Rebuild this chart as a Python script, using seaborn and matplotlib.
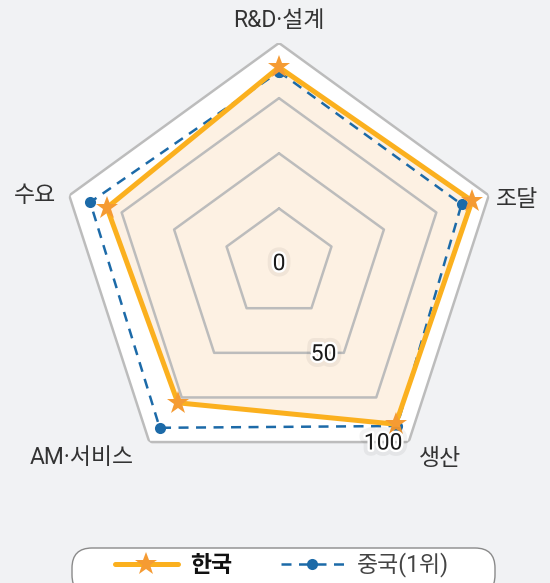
import numpy as np
import pandas as pd
import seaborn as sns
import matplotlib.pyplot as plt
import matplotlib.patheffects as pe
from matplotlib.lines import Line2D
from matplotlib.patches import FancyBboxPatch
from matplotlib.transforms import IdentityTransform

# data
categories = ['R&D·설계', '조달', '생산', 'AM·서비스', '수요']
korea = [89, 92, 90, 78, 82]
china = [87, 87, 91, 92, 90]
ring_values = [25, 50, 75, 100]
tick_labels = [0, 50, 100]

sns.set_theme(style='white')
plt.rcParams['font.family'] = ['Roboto', 'Noto Sans CJK KR', 'DejaVu Sans']

bg = '#f1f2f4'
fig = plt.figure(figsize=(5.5, 5.83), dpi=100, facecolor=bg)

# polar axes centred on the pentagon
cx, cy, R = 279 / 550, 1 - 263.6 / 583, 220.6
w, h = R / 550, R / 583
ax = fig.add_axes([cx - w, cy - h, 2 * w, 2 * h], projection='polar')
ax.set_theta_zero_location('N')
ax.set_theta_direction(-1)
ax.set_ylim(0, 100)
ax.patch.set_visible(False)
ax.spines['polar'].set_visible(False)
ax.grid(False)

n = len(categories)
theta = np.linspace(0, 2 * np.pi, n, endpoint=False)
theta_c = np.append(theta, 2 * np.pi)

# white plot area + pentagon rings
ax.fill(theta_c, [ring_values[-1]] * (n + 1), color='white', zorder=0)
for rv in ring_values:
    ax.plot(theta_c, [rv] * (n + 1), color='#bcbcbc', lw=1.8, zorder=1)

df_kr = pd.DataFrame({'theta': theta_c, 'value': korea + korea[:1]})
df_cn = pd.DataFrame({'theta': theta_c, 'value': china + china[:1]})

ax.fill(df_kr['theta'], df_kr['value'], color='#fdf1e3', zorder=0.5)

sns.lineplot(data=df_cn, x='theta', y='value', ax=ax, sort=False,
             color='#1c6aa8', lw=1.8, linestyle=(0, (4, 3)),
             marker='o', markersize=8, markeredgewidth=0, zorder=3)
sns.lineplot(data=df_kr, x='theta', y='value', ax=ax, sort=False,
             color='#fbb01e', lw=3.6, zorder=4)
ax.plot(theta, korea, ls='none', marker='*', markersize=17,
        color='#f59b33', markeredgewidth=0, zorder=5)
ax.set_xlabel('')
ax.set_ylabel('')
ax.set_xticks([])
ax.set_yticks([])

# category labels (angle in degrees, radius)
label_pos = [(0, 110.4), (75.0, 111.7), (140.4, 114.4), (225.4, 125.5), (285.5, 114.8)]
for (t, r), lab in zip(label_pos, categories):
    ax.text(np.deg2rad(t), r, lab, ha='center', va='center', fontsize=16.5,
            color='#333333', zorder=6)

# radial tick labels
tick_pos = [(0, 0), (153.8, 45.7), (149.9, 94.0)]
halo = [pe.Stroke(linewidth=9, foreground='#000000', alpha=0.05),
        pe.Stroke(linewidth=3.5, foreground='white'), pe.Normal()]
for (t, r), v in zip(tick_pos, tick_labels):
    ax.text(np.deg2rad(t), r, str(v), ha='center', va='center',
            fontsize=16.5, color='#1a1a1a', path_effects=halo, zorder=7)

# legend box (pill)
pill = FancyBboxPatch((72 + 20, -12 + 20), 423 - 40, 47 - 40,
                      boxstyle='round,pad=20', transform=IdentityTransform(),
                      facecolor='white', edgecolor='#8a8a8a', lw=1.0)
fig.patches.append(pill)

handles = [
    Line2D([], [], color='#fbb01e', lw=3.6, marker='*', markersize=17,
           markerfacecolor='#f59b33', markeredgewidth=0),
    Line2D([], [], color='#1c6aa8', lw=1.8, linestyle=(0, (4, 3)),
           marker='o', markersize=8, markeredgewidth=0),
]
leg = fig.legend(handles, ['한국', '중국(1위)'], loc='center',
                 bbox_to_anchor=(0.512, 18 / 583), ncol=2, fontsize=16.5,
                 handlelength=2.75, handletextpad=0.55, columnspacing=2.1,
                 frameon=False, borderpad=0.2,
                 labelcolor=['#111111', '#444444'])
leg.get_texts()[0].set_fontweight('bold')

fig.savefig('out.png', dpi=100, facecolor=bg)
